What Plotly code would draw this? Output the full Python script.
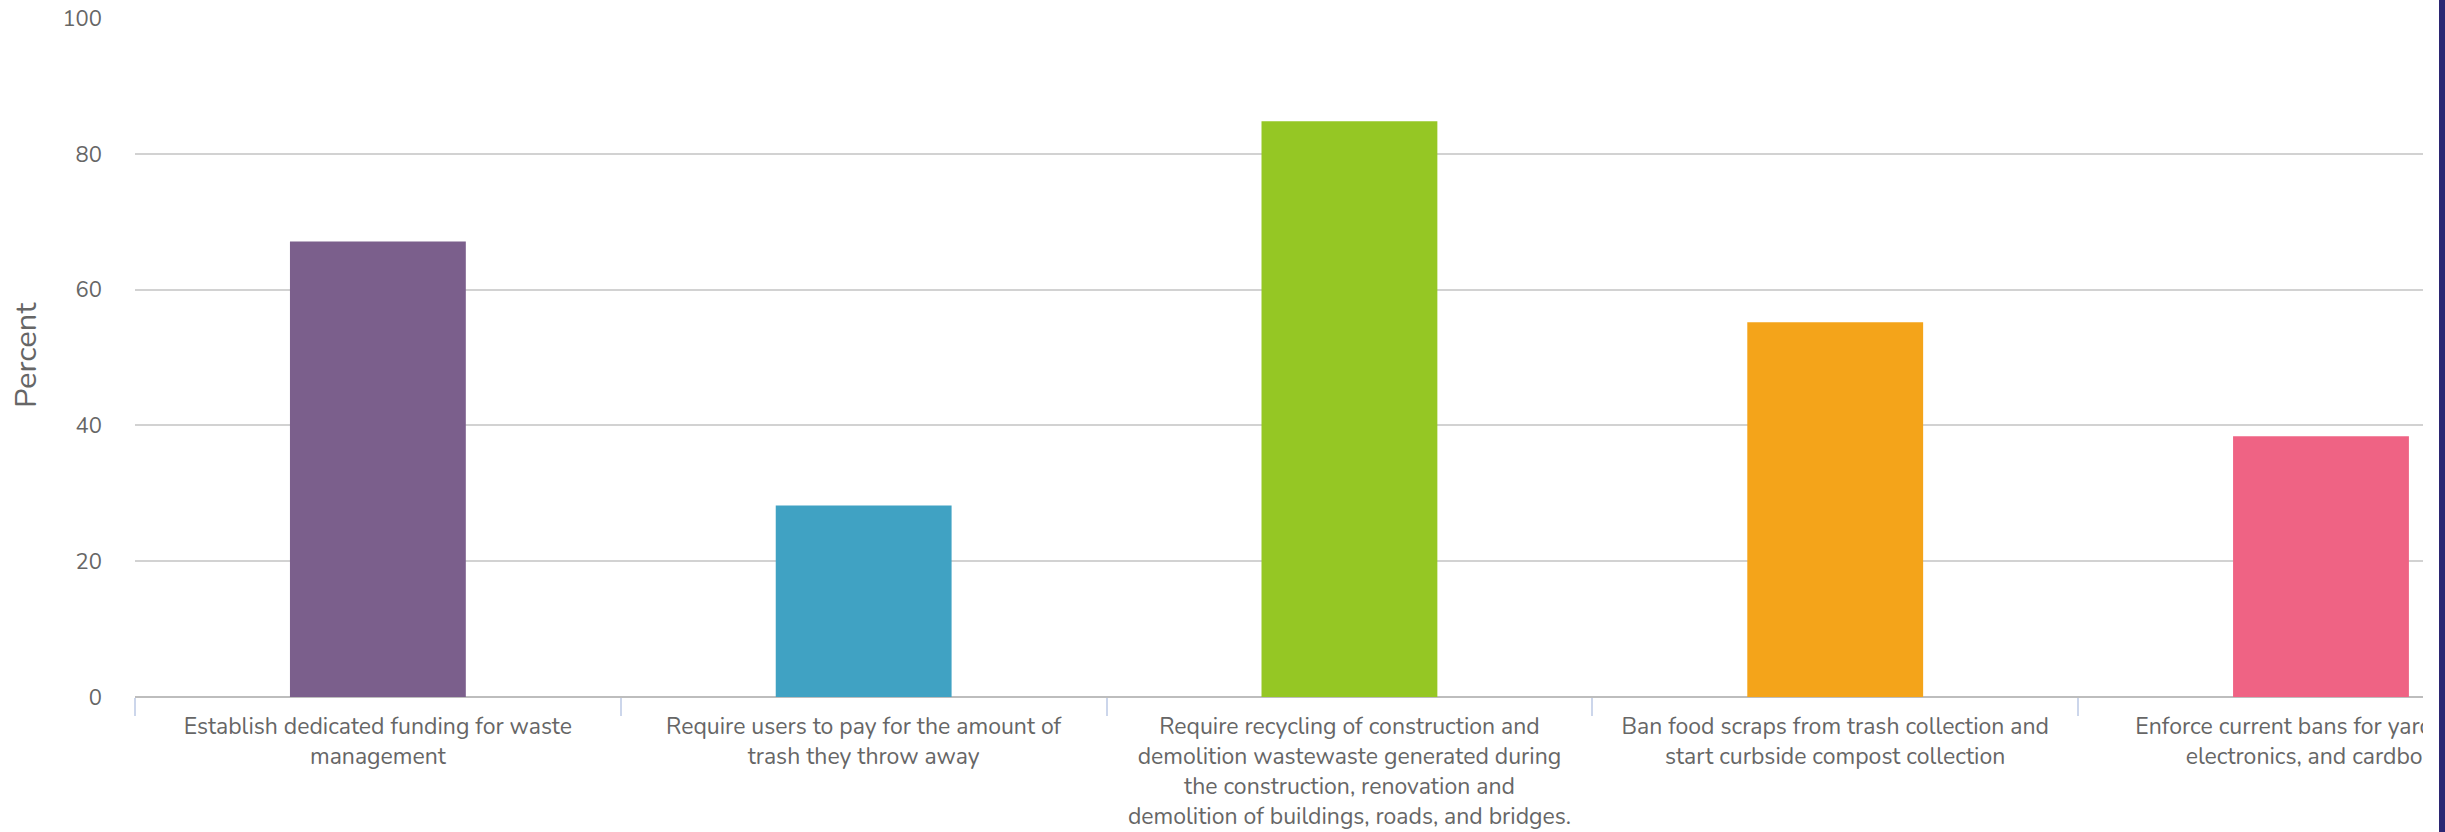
import plotly.graph_objects as go

categories = [
    "Establish dedicated funding for waste<br>management",
    "Require users to pay for the amount of<br>trash they throw away",
    "Require recycling of construction and<br>demolition wastewaste generated during<br>the construction, renovation and<br>demolition of buildings, roads, and bridges.",
    "Ban food scraps from trash collection and<br>start curbside compost collection",
    "Enforce current bans for yard waste,<br>electronics, and cardboard",
]
values = [67.1, 28.2, 84.8, 55.2, 38.4]
colors = ["#7b5f8c", "#40a2c3", "#95c724", "#f4a41a", "#ef6384"]
y_ticks = [0, 20, 40, 60, 80, 100]

W, H = 2445, 832
ML, MR, MT, MB = 135, 22, 18, 135
PW = W - ML - MR
PH = H - MT - MB


def px_x(px):
    return (px - ML) / PW


def px_y(py):
    return (H - MB - py) / PH


fig = go.Figure(
    go.Bar(
        x=categories,
        y=values,
        marker=dict(color=colors, line=dict(width=0)),
        hoverinfo="skip",
    )
)

FONT = "Nunito, Lato, 'Open Sans', sans-serif"

fig.update_layout(
    width=W,
    height=H,
    autosize=False,
    margin=dict(l=ML, r=MR, t=MT, b=MB, pad=0, autoexpand=False),
    paper_bgcolor="white",
    plot_bgcolor="white",
    showlegend=False,
    bargap=0.638,
    font=dict(family=FONT, color="#666666"),
    xaxis=dict(
        type="category",
        range=[-0.5, 4.21],
        automargin=False,
        tickson="boundaries",
        ticks="outside",
        ticklen=18,
        tickwidth=1.5,
        tickcolor="#ccd6eb",
        showline=False,
        showgrid=False,
        tickangle=0,
        ticklabelstandoff=13,
        tickfont=dict(size=23, color="#666666", family=FONT),
        ticklabeloverflow="allow",
        fixedrange=True,
    ),
    yaxis=dict(
        range=[0, 100],
        automargin=False,
        tickvals=y_ticks,
        showgrid=True,
        gridcolor="#d2d2d2",
        gridwidth=2,
        zeroline=True,
        zerolinecolor="#bdbdbd",
        zerolinewidth=2,
        showline=False,
        ticks="",
        ticklabelstandoff=32,
        tickfont=dict(size=22, color="#666666", family=FONT),
        fixedrange=True,
    ),
    annotations=[
        dict(
            text="Percent",
            xref="paper",
            yref="paper",
            x=px_x(26),
            y=px_y(355),
            xanchor="center",
            yanchor="middle",
            textangle=-90,
            showarrow=False,
            font=dict(size=31, color="#666666", family=FONT),
        )
    ],
    shapes=[
        dict(
            type="rect",
            xref="paper",
            yref="paper",
            x0=1.0,
            x1=px_x(2439),
            y0=px_y(H + 5),
            y1=px_y(-5),
            fillcolor="white",
            line=dict(width=0),
            layer="above",
        ),
        dict(
            type="rect",
            xref="paper",
            yref="paper",
            x0=px_x(2439),
            x1=px_x(W + 10),
            y0=px_y(H + 5),
            y1=px_y(-5),
            fillcolor="#2b2773",
            line=dict(width=0),
            layer="above",
        ),
    ],
)

fig.write_html("out.html", config={"displayModeBar": False})
